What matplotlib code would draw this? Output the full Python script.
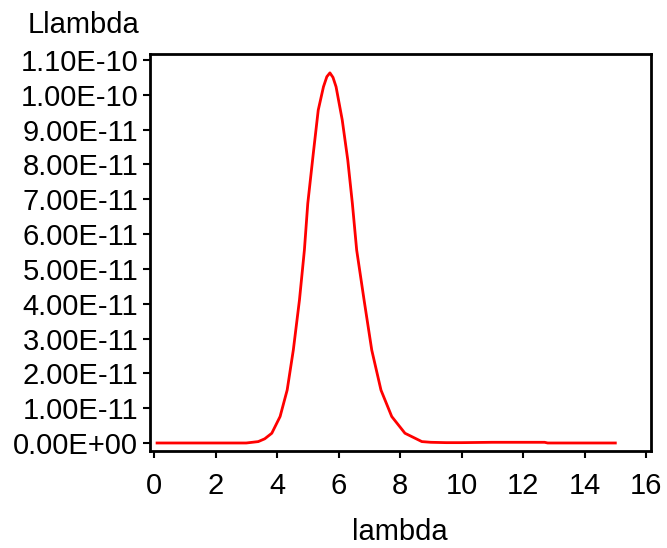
import matplotlib
matplotlib.use("Agg")
import matplotlib.pyplot as plt
from matplotlib.ticker import FuncFormatter, MultipleLocator

plt.rcParams['font.family'] = ['Liberation Sans', 'DejaVu Sans']

# data (L in units of 1e-11)
lam = [0.1, 1.0, 2.0, 3.0, 3.39, 3.6, 3.83, 4.10, 4.33, 4.53, 4.73, 4.89, 5.00, 5.18, 5.34,
       5.51, 5.62, 5.72, 5.82, 5.92, 6.12, 6.30, 6.45, 6.59, 6.83, 7.08, 7.38, 7.73,
       8.16, 8.71, 9.0, 9.5, 10.0, 11.0, 12.0, 12.7, 12.8, 14.0, 15.0]
L_e11 = [0.0, 0.0, 0.0, 0.0, 0.04, 0.12, 0.28, 0.76, 1.52, 2.67, 4.11, 5.54, 6.88, 8.32, 9.56,
         10.23, 10.52, 10.63, 10.50, 10.23, 9.28, 8.13, 6.88, 5.54, 4.11, 2.67, 1.52, 0.76,
         0.28, 0.04, 0.02, 0.01, 0.01, 0.02, 0.02, 0.02, 0.0, 0.0, 0.0]
L = [v * 1e-11 for v in L_e11]

x_label = "lambda"
y_label = "Llambda"

fig = plt.figure(figsize=(6.67, 5.48), dpi=100)
ax = fig.add_axes([150/667, 1-451/548, (651-150)/667, (451-54)/548])

ax.plot(lam, L, color='#ff0000', lw=2.0)

ax.set_xlim(-0.13, 16.16)
ax.set_ylim(-0.23e-11, 11.172e-11)
ax.xaxis.set_major_locator(MultipleLocator(2))
ax.yaxis.set_major_locator(MultipleLocator(1e-11))
ax.yaxis.set_major_formatter(FuncFormatter(lambda v, p: f"{v:.2E}"))
ax.yaxis.get_offset_text().set_visible(False)

for s in ax.spines.values():
    s.set_linewidth(2.0)
    s.set_color('black')

ax.tick_params(axis='y', direction='out', length=5, width=1.5, pad=3.5, labelsize=21)
ax.tick_params(axis='x', direction='out', length=5, width=1.5, pad=10, labelsize=21)

fig.text(400/667, 1-532/548, x_label, ha='center', va='center', fontsize=21)
fig.text(83/667, 1-25/548, y_label, ha='center', va='center', fontsize=21)

fig.savefig("out.png", dpi=100)
